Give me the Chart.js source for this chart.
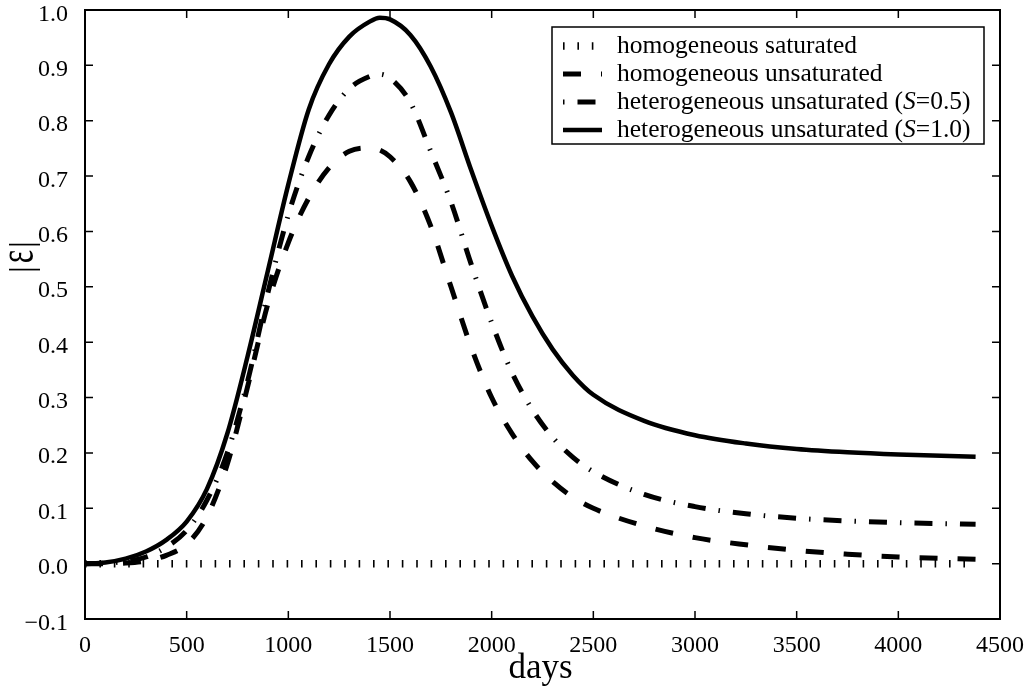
<!DOCTYPE html>
<html>
<head>
<meta charset="utf-8">
<script src="https://cdn.jsdelivr.net/npm/chart.js@4.4.1/dist/chart.umd.min.js"></script>
<style>
  html, body { margin: 0; padding: 0; background: #fff; }
  #wrap { width: 1029px; height: 690px; }
</style>
</head>
<body>
<div id="wrap"><canvas id="chart"></canvas></div>
<script>
// days and |eps| values
const days = [0, 100, 200, 300, 400, 500, 600, 700, 800, 900, 1000, 1100, 1200, 1300, 1400, 1450, 1500,
    1600, 1700, 1800, 1900, 2000, 2100, 2200, 2300, 2400, 2500, 2750, 3000, 3250, 3500, 3750, 4000, 4380];

const homSaturated = [0, 0, 0, 0, 0, 0, 0, 0, 0, 0, 0, 0, 0, 0, 0, 0, 0,
    0, 0, 0, 0, 0, 0, 0, 0, 0, 0, 0, 0, 0, 0, 0, 0, 0];

const homUnsaturated = [0, 0, 0.001, 0.005, 0.015, 0.035, 0.085, 0.18, 0.32, 0.47, 0.58, 0.66, 0.715, 0.745, 0.751, 0.747, 0.735,
    0.69, 0.61, 0.5, 0.39, 0.3, 0.235, 0.185, 0.148, 0.12, 0.1, 0.068, 0.047, 0.034, 0.024, 0.017, 0.012, 0.008];

const hetS05 = [0, 0.001, 0.004, 0.012, 0.03, 0.06, 0.115, 0.2, 0.33, 0.49, 0.63, 0.735, 0.81, 0.858, 0.88, 0.884, 0.877,
    0.833, 0.745, 0.653, 0.54, 0.435, 0.345, 0.278, 0.228, 0.192, 0.166, 0.125, 0.103, 0.09, 0.082, 0.077, 0.074, 0.071];

const hetS10 = [0, 0.002, 0.009, 0.022, 0.043, 0.076, 0.135, 0.235, 0.375, 0.53, 0.685, 0.82, 0.902, 0.952, 0.979, 0.986, 0.983,
    0.955, 0.898, 0.815, 0.71, 0.61, 0.52, 0.447, 0.387, 0.34, 0.305, 0.258, 0.232, 0.217, 0.207, 0.201, 0.197, 0.193];

const xTicks = [0, 500, 1000, 1500, 2000, 2500, 3000, 3500, 4000, 4500];
const yTicks = [-0.1, 0.0, 0.1, 0.2, 0.3, 0.4, 0.5, 0.6, 0.7, 0.8, 0.9, 1.0];

const legendLabels = [
    ['homogeneous saturated', null],
    ['homogeneous unsaturated', null],
    ['heterogeneous unsaturated (', '=0.5)'],
    ['heterogeneous unsaturated (', '=1.0)']
];

const SERIF = '"Liberation Serif", "Times New Roman", serif';

function pts(vals) {
    return days.map((d, i) => ({ x: d, y: vals[i] }));
}

function fmtY(v) {
    return (v < 0 ? '\u2212' : '') + Math.abs(v).toFixed(1);
}

// frame, inward ticks, tick labels, titles and legend box
const decorPlugin = {
    id: 'decor',
    afterDraw(chart) {
        const ctx = chart.ctx;
        const a = chart.chartArea;
        const xs = chart.scales.x, ys = chart.scales.y;
        ctx.save();
        ctx.strokeStyle = '#000';
        ctx.fillStyle = '#000';
        ctx.lineWidth = 2;
        ctx.strokeRect(a.left, a.top, a.right - a.left, a.bottom - a.top);

        ctx.lineWidth = 1.5;
        ctx.beginPath();
        xTicks.forEach(v => {
            const px = xs.getPixelForValue(v);
            ctx.moveTo(px, a.bottom); ctx.lineTo(px, a.bottom - 8);
            ctx.moveTo(px, a.top); ctx.lineTo(px, a.top + 8);
        });
        yTicks.forEach(v => {
            const py = ys.getPixelForValue(v);
            ctx.moveTo(a.left, py); ctx.lineTo(a.left + 8, py);
            ctx.moveTo(a.right, py); ctx.lineTo(a.right - 8, py);
        });
        ctx.stroke();

        // tick labels
        ctx.font = '24px ' + SERIF;
        ctx.textBaseline = 'alphabetic';
        ctx.textAlign = 'center';
        xTicks.forEach(v => {
            ctx.fillText(String(v), xs.getPixelForValue(v), a.bottom + 33);
        });
        ctx.textAlign = 'right';
        yTicks.forEach(v => {
            ctx.fillText(fmtY(v), a.left - 17, ys.getPixelForValue(v) + 10.5);
        });

        // axis titles
        ctx.font = '35px ' + SERIF;
        ctx.textAlign = 'center';
        ctx.fillText('days', (a.left + a.right) / 2 - 2, 678);

        ctx.save();
        ctx.translate(33, 257);
        ctx.rotate(-Math.PI / 2);
        ctx.textAlign = 'center';
        ctx.textBaseline = 'alphabetic';
        ctx.font = '34px ' + SERIF;
        ctx.fillText('|', -12.5, 0);
        ctx.fillText('|', 12.5, 0);
        ctx.save();
        ctx.scale(1, 1.55);
        ctx.font = '32px ' + SERIF;
        ctx.fillText('\u03b5', 0.5, 0);
        ctx.restore();
        ctx.restore();

        // legend
        const bx = 552, by = 27, bw = 432, bh = 117;
        ctx.fillStyle = '#fff';
        ctx.fillRect(bx, by, bw, bh);
        ctx.lineWidth = 1.5;
        ctx.setLineDash([]);
        ctx.strokeRect(bx, by, bw, bh);

        const rowY = [46, 74, 102, 130];
        const offsets = [0, 0, 31, 0];
        chart.data.datasets.forEach((ds, i) => {
            const y = rowY[i];
            ctx.save();
            ctx.strokeStyle = '#000';
            ctx.lineWidth = ds.borderWidth;
            ctx.lineCap = 'butt';
            ctx.setLineDash(ds.borderDash || []);
            ctx.lineDashOffset = offsets[i];
            ctx.beginPath();
            ctx.moveTo(563, y);
            ctx.lineTo(602, y);
            ctx.stroke();
            ctx.restore();

            const lab = legendLabels[i];
            ctx.fillStyle = '#000';
            ctx.textBaseline = 'middle';
            ctx.textAlign = 'left';
            ctx.font = '25.5px ' + SERIF;
            let tx = 617;
            ctx.fillText(lab[0], tx, y);
            if (lab[1]) {
                tx += ctx.measureText(lab[0]).width;
                ctx.font = 'italic 25.5px ' + SERIF;
                ctx.fillText('S', tx, y);
                tx += ctx.measureText('S').width;
                ctx.font = '25.5px ' + SERIF;
                ctx.fillText(lab[1], tx, y);
            }
        });
        ctx.restore();
    }
};

new Chart(document.getElementById('chart'), {
    type: 'line',
    data: {
        datasets: [{
            label: 'homogeneous saturated',
            data: pts(homSaturated),
            borderColor: '#000',
            borderWidth: 7.5,
            borderDash: [1.6, 12.8],
            borderCapStyle: 'butt',
            pointRadius: 0,
            fill: false
        }, {
            label: 'homogeneous unsaturated',
            data: pts(homUnsaturated),
            borderColor: '#000',
            borderWidth: 5,
            borderDash: [18, 20],
            borderCapStyle: 'butt',
            cubicInterpolationMode: 'monotone',
            pointRadius: 0,
            fill: false
        }, {
            label: 'heterogeneous unsaturated (S=0.5)',
            data: pts(hetS05),
            borderColor: '#000',
            borderWidth: 5,
            borderDash: [18, 13, 1.5, 13],
            borderCapStyle: 'butt',
            cubicInterpolationMode: 'monotone',
            pointRadius: 0,
            fill: false
        }, {
            label: 'heterogeneous unsaturated (S=1.0)',
            data: pts(hetS10),
            borderColor: '#000',
            borderWidth: 4.5,
            cubicInterpolationMode: 'monotone',
            pointRadius: 0,
            fill: false
        }]
    },
    options: {
        responsive: true,
        maintainAspectRatio: false,
        animation: false,
        layout: { padding: { left: 0, right: 29, top: 10, bottom: 0 } },
        plugins: {
            legend: { display: false },
            tooltip: { enabled: false }
        },
        scales: {
            x: {
                type: 'linear',
                min: 0,
                max: 4500,
                afterFit: s => { s.height = 71; },
                border: { display: false },
                grid: { display: false },
                ticks: { display: false }
            },
            y: {
                min: -0.1,
                max: 1.0,
                afterFit: s => { s.width = 85; },
                border: { display: false },
                grid: { display: false },
                ticks: { display: false }
            }
        }
    },
    plugins: [decorPlugin]
});
</script>
</body>
</html>
